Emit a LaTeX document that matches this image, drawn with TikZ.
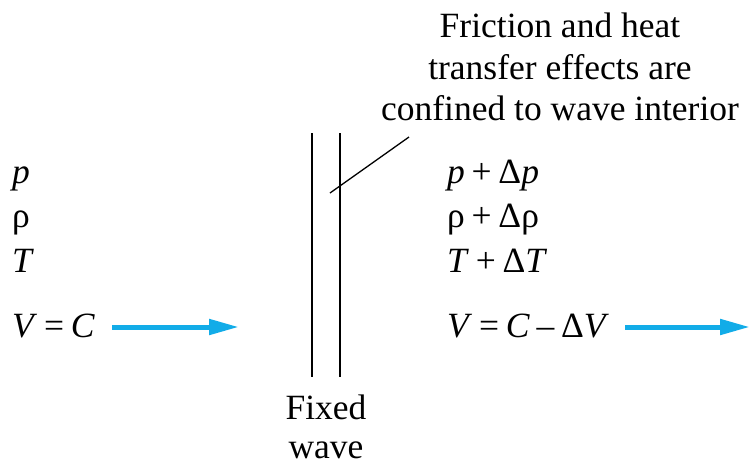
\documentclass[tikz,border=0pt]{standalone}
\usepackage{fontspec}
\setmainfont{Liberation Serif}
\usepackage{tikz}
\usepackage{xcolor}
\usetikzlibrary{positioning, arrows.meta}
\definecolor{flowblue}{RGB}{18,172,232}
\newcommand{\var}[1]{\textit{#1}}
\newcommand{\op}[1]{\hspace{0.19em}#1\hspace{0.19em}}

\begin{document}
\begin{tikzpicture}[
  x=1pt, y=-1pt,
  every node/.style={inner sep=0pt, font=\fontsize{35.5}{41.5}\selectfont},
  state/.style={anchor=base west},
  flow/.style={line width=5pt, flowblue, -{Triangle[length=30pt,width=15pt]}},
  wall/.style={line width=1.3pt},
]
  \useasboundingbox (0,0) rectangle (750,467);

  % Upstream state
  \node[state] (p1) at (12,183) {\var{p}};
  \node[state] (r1) at (12,227) {ρ};
  \node[state] (t1) at (12,272) {\var{T}};
  \node[state] (v1) at (12,337) {\var{V}\op{=}\var{C}};

  % Downstream state
  \node[state] (p2) at (447,183) {\var{p}\op{+}Δ\var{p}};
  \node[state] (r2) at (447,227) {ρ\op{+}Δρ};
  \node[state] (t2) at (447,272) {\var{T}\op{+}Δ\var{T}};
  \node[state] (v2) at (447,337) {\var{V}\op{=}\var{C}\op{–}Δ\var{V}};

  % Flow arrows
  \coordinate (a1s) at (112,327);
  \coordinate (a1e) at (239,327);
  \coordinate (a2s) at (625,327);
  \coordinate (a2e) at (750,327);
  \draw[flow] (a1s) -- (a1e);
  \draw[flow] (a2s) -- (a2e);

  % Fixed wave
  \coordinate (w1top) at (312,133);
  \coordinate (w1bot) at (312,377);
  \coordinate (w2top) at (340,133);
  \coordinate (w2bot) at (340,377);
  \draw[wall] (w1top) -- (w1bot);
  \draw[wall] (w2top) -- (w2bot);
  \node[anchor=north, align=center, font=\fontsize{35.5}{39}\selectfont]
    (fixed) at (326,395) {Fixed\\wave};

  % Note on wave interior
  \node[anchor=north, align=center] (note) at (560,13)
    {Friction and heat\\transfer effects are\\confined to wave interior};
  \coordinate (lead) at (409,137);
  \coordinate (inside) at (330,193);
  \draw[wall] (lead) -- (inside);
\end{tikzpicture}
\end{document}
